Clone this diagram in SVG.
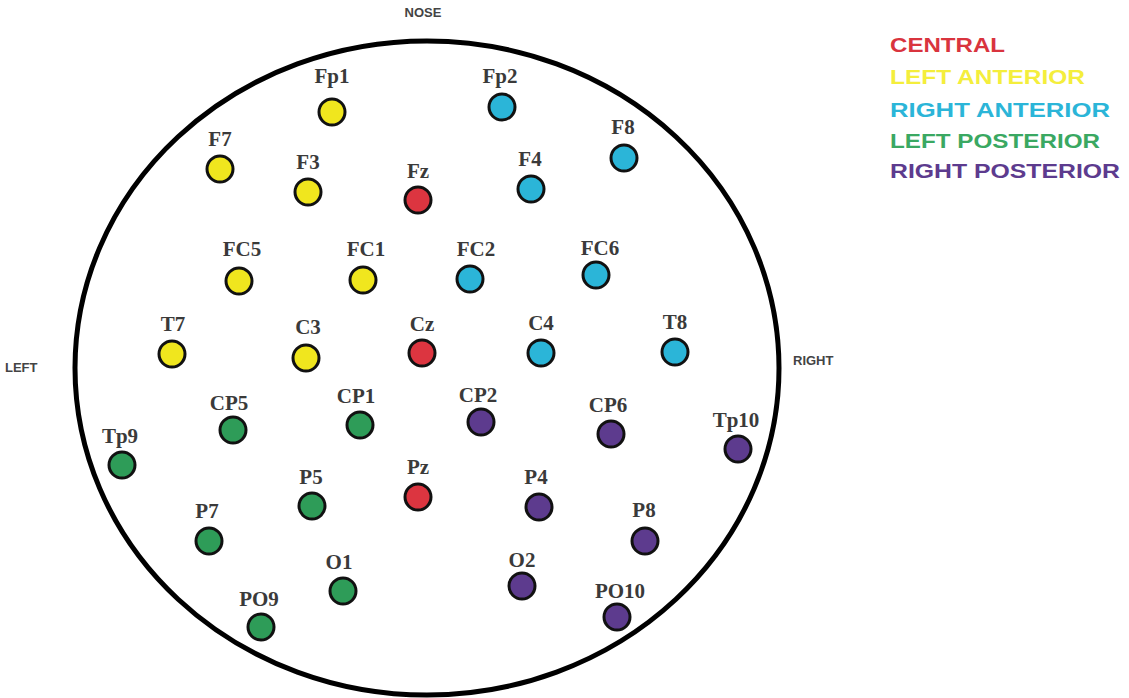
<svg xmlns="http://www.w3.org/2000/svg" width="1129" height="698" viewBox="0 0 1129 698">
<style>
.lbl{font-family:"Liberation Serif","Times New Roman",serif;font-size:21px;font-weight:bold;fill:#3a3a3a;text-anchor:middle}
.dir{font-family:"Liberation Sans",Arial,sans-serif;font-size:13px;font-weight:bold;fill:#444}
.leg{font-family:"Liberation Sans",Arial,sans-serif;font-size:21px;font-weight:bold}
.e{stroke:#111;stroke-width:3}
.cen{fill:#dc3540}
.la{fill:#f0e61e}
.ra{fill:#2bb5d8}
.lp{fill:#2e9c58}
.rp{fill:#5d3b8e}
</style>
<rect width="1129" height="698" fill="#fff"/>
<g id="head">
<ellipse cx="427" cy="368" rx="352" ry="327" fill="none" stroke="#000" stroke-width="5"/>
</g>
<g id="directions">
<text class="dir" x="423" y="17" text-anchor="middle">NOSE</text>
<text class="dir" x="5" y="372">LEFT</text>
<text class="dir" x="793" y="365">RIGHT</text>
</g>
<g id="legend">
<text class="leg" x="890" y="52" fill="#d9343e" textLength="115" lengthAdjust="spacingAndGlyphs">CENTRAL</text>
<text class="leg" x="890" y="84" fill="#f4ee3c" textLength="195" lengthAdjust="spacingAndGlyphs">LEFT ANTERIOR</text>
<text class="leg" x="890" y="117" fill="#2bb5d8" textLength="220" lengthAdjust="spacingAndGlyphs">RIGHT ANTERIOR</text>
<text class="leg" x="890" y="148" fill="#3aa862" textLength="210" lengthAdjust="spacingAndGlyphs">LEFT POSTERIOR</text>
<text class="leg" x="890" y="178" fill="#5d3b8e" textLength="230" lengthAdjust="spacingAndGlyphs">RIGHT POSTERIOR</text>
</g>
<g id="connectors"></g>
<g id="Fp1"><circle class="e la" cx="332" cy="112" r="13"/><text class="lbl" x="332" y="83">Fp1</text></g>
<g id="Fp2"><circle class="e ra" cx="502" cy="107" r="13"/><text class="lbl" x="500" y="83">Fp2</text></g>
<g id="F7"><circle class="e la" cx="220" cy="169" r="13"/><text class="lbl" x="220" y="146">F7</text></g>
<g id="F3"><circle class="e la" cx="308" cy="192" r="13"/><text class="lbl" x="308" y="169">F3</text></g>
<g id="Fz"><circle class="e cen" cx="418" cy="200" r="13"/><text class="lbl" x="418" y="178">Fz</text></g>
<g id="F4"><circle class="e ra" cx="531" cy="189" r="13"/><text class="lbl" x="530" y="166">F4</text></g>
<g id="F8"><circle class="e ra" cx="624" cy="158" r="13"/><text class="lbl" x="623" y="134">F8</text></g>
<g id="FC5"><circle class="e la" cx="239" cy="281" r="13"/><text class="lbl" x="242" y="256">FC5</text></g>
<g id="FC1"><circle class="e la" cx="363" cy="280" r="13"/><text class="lbl" x="366" y="256">FC1</text></g>
<g id="FC2"><circle class="e ra" cx="470" cy="279" r="13"/><text class="lbl" x="476" y="256">FC2</text></g>
<g id="FC6"><circle class="e ra" cx="596" cy="275" r="13"/><text class="lbl" x="600" y="255">FC6</text></g>
<g id="T7"><circle class="e la" cx="172" cy="354" r="13"/><text class="lbl" x="173" y="331">T7</text></g>
<g id="C3"><circle class="e la" cx="306" cy="358" r="13"/><text class="lbl" x="308" y="334">C3</text></g>
<g id="Cz"><circle class="e cen" cx="422" cy="353" r="13"/><text class="lbl" x="422" y="331">Cz</text></g>
<g id="C4"><circle class="e ra" cx="541" cy="353" r="13"/><text class="lbl" x="541" y="330">C4</text></g>
<g id="T8"><circle class="e ra" cx="675" cy="352" r="13"/><text class="lbl" x="675" y="329">T8</text></g>
<g id="CP5"><circle class="e lp" cx="233" cy="430" r="13"/><text class="lbl" x="229" y="410">CP5</text></g>
<g id="CP1"><circle class="e lp" cx="360" cy="425" r="13"/><text class="lbl" x="356" y="403">CP1</text></g>
<g id="CP2"><circle class="e rp" cx="481" cy="422" r="13"/><text class="lbl" x="478" y="402">CP2</text></g>
<g id="CP6"><circle class="e rp" cx="611" cy="434" r="13"/><text class="lbl" x="608" y="412">CP6</text></g>
<g id="Tp9"><circle class="e lp" cx="122" cy="465" r="13"/><text class="lbl" x="120" y="443">Tp9</text></g>
<g id="Tp10"><circle class="e rp" cx="738" cy="449" r="13"/><text class="lbl" x="736" y="427">Tp10</text></g>
<g id="P5"><circle class="e lp" cx="312" cy="506" r="13"/><text class="lbl" x="311" y="484">P5</text></g>
<g id="Pz"><circle class="e cen" cx="418" cy="497" r="13"/><text class="lbl" x="418" y="474">Pz</text></g>
<g id="P4"><circle class="e rp" cx="539" cy="507" r="13"/><text class="lbl" x="536" y="484">P4</text></g>
<g id="P7"><circle class="e lp" cx="209" cy="541" r="13"/><text class="lbl" x="207" y="518">P7</text></g>
<g id="P8"><circle class="e rp" cx="645" cy="541" r="13"/><text class="lbl" x="644" y="517">P8</text></g>
<g id="O1"><circle class="e lp" cx="343" cy="591" r="13"/><text class="lbl" x="339" y="569">O1</text></g>
<g id="O2"><circle class="e rp" cx="522" cy="586" r="13"/><text class="lbl" x="522" y="567">O2</text></g>
<g id="PO9"><circle class="e lp" cx="261" cy="627" r="13"/><text class="lbl" x="259" y="606">PO9</text></g>
<g id="PO10"><circle class="e rp" cx="617" cy="617" r="13"/><text class="lbl" x="620" y="598">PO10</text></g>
</svg>
